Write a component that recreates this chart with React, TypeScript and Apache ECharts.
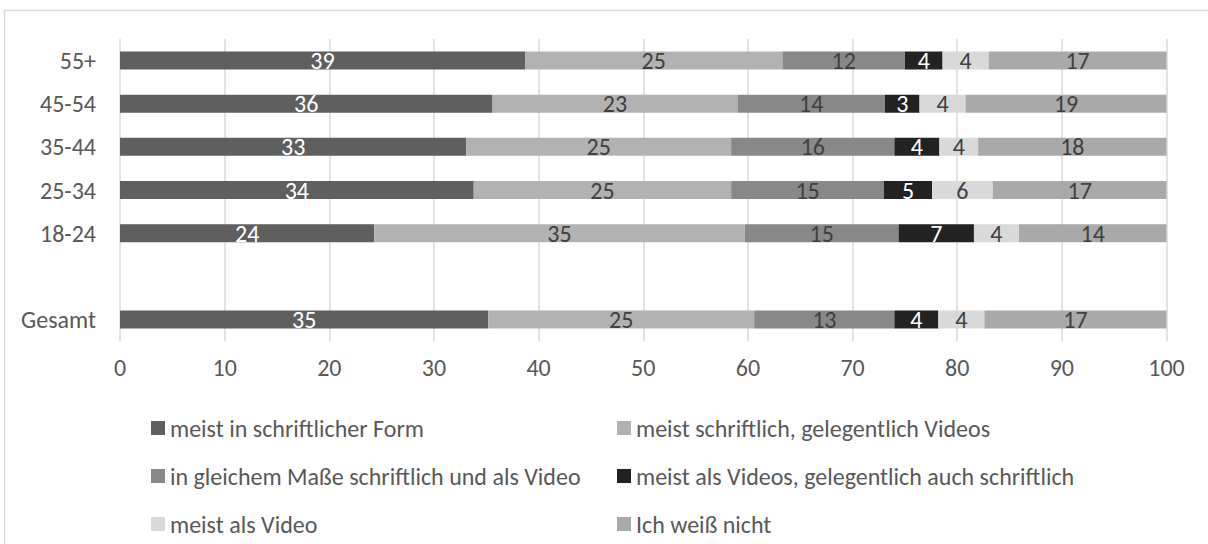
import React, { useEffect, useRef } from "react";
import * as echarts from "echarts";

const categories = ["Gesamt", "", "18-24", "25-34", "35-44", "45-54", "55+"];
const seriesNames = [
  "meist in schriftlicher Form",
  "meist schriftlich, gelegentlich Videos",
  "in gleichem Maße schriftlich und als Video",
  "meist als Videos, gelegentlich auch schriftlich",
  "meist als Video",
  "Ich weiß nicht",
];
const schriftlich = [35.2, null, 24.3, 33.8, 33.1, 35.6, 38.7];
const schriftlichVideos = [25.4, null, 35.4, 24.6, 25.3, 23.4, 24.6];
const gleich = [13.4, null, 14.7, 14.6, 15.6, 14.1, 11.7];
const videosSchriftlich = [4.2, null, 7.2, 4.6, 4.3, 3.3, 3.6];
const video = [4.4, null, 4.3, 5.8, 3.7, 4.4, 4.4];
const weissNicht = [17.4, null, 14.1, 16.6, 18.0, 19.2, 17.0];
const xTicks = [0, 10, 20, 30, 40, 50, 60, 70, 80, 90, 100];

const seriesData = [schriftlich, schriftlichVideos, gleich, videosSchriftlich, video, weissNicht];
const colors = ["#5f5f5f", "#b2b2b2", "#888888", "#222222", "#d9d9d9", "#a9a9a9"];
const labelColors = ["#ffffff", "#404040", "#404040", "#ffffff", "#404040", "#404040"];

const FONT = "Carlito, Lato";
const FS = 24;

export default function App() {
  const ref = useRef<HTMLDivElement>(null);
  useEffect(() => {
    if (!ref.current) return;
    const chart = echarts.init(ref.current, null, { renderer: "svg" });
    const legendPos = [
      { left: 151, top: 416 },
      { left: 617, top: 416 },
      { left: 151, top: 464 },
      { left: 617, top: 464 },
      { left: 151, top: 512 },
      { left: 617, top: 512 },
    ];
    chart.setOption({
      animation: false,
      backgroundColor: "#ffffff",
      textStyle: { fontFamily: FONT },
      graphic: [
        {
          type: "rect",
          shape: { x: 4.5, y: 10.5, width: 1220, height: 560 },
          style: { fill: "none", stroke: "#d9d9d9", lineWidth: 1.5 },
          silent: true,
        },
      ],
      grid: { left: 120, right: 41.5, top: 39, height: 302, containLabel: false },
      xAxis: {
        type: "value",
        min: 0,
        max: 100,
        interval: 10,
        axisLine: { show: false },
        axisTick: { show: false },
        splitLine: { show: true, lineStyle: { color: "#d9d9d9", width: 1.5 } },
        axisLabel: {
          color: "#595959",
          fontFamily: FONT,
          fontSize: FS,
          margin: 14,
          formatter: (v: number) => (xTicks.includes(v) ? String(v) : ""),
        },
      },
      yAxis: {
        type: "category",
        data: categories,
        axisLine: { show: false },
        axisTick: { show: false },
        axisLabel: { color: "#595959", fontFamily: FONT, fontSize: FS, margin: 24 },
      },
      legend: seriesNames.map((n, i) => ({
        data: [n],
        left: legendPos[i].left,
        top: legendPos[i].top,
        padding: 0,
        itemWidth: 14,
        itemHeight: 14,
        itemGap: 5,
        icon: "rect",
        selectedMode: false,
        textStyle: { color: "#595959", fontFamily: FONT, fontSize: FS },
      })),
      series: seriesNames.map((n, i) => ({
        name: n,
        type: "bar",
        stack: "total",
        data: seriesData[i],
        barWidth: 18,
        itemStyle: { color: colors[i] },
        label: {
          show: true,
          position: "inside",
          color: labelColors[i],
          fontFamily: FONT,
          fontSize: FS,
          formatter: (p: any) => String(Math.round(p.value)),
        },
      })),
    });
    return () => chart.dispose();
  }, []);
  return (
    <div
      ref={ref}
      style={{ position: "absolute", left: 0, top: 0, width: 1208, height: 544 }}
    />
  );
}
